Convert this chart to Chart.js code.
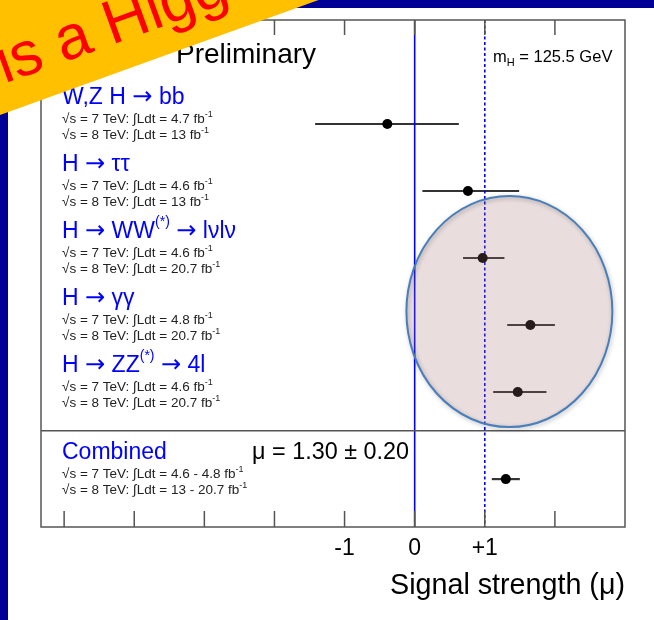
<!DOCTYPE html>
<html>
<head>
<meta charset="utf-8">
<script src="https://cdn.jsdelivr.net/npm/chart.js@4"></script>
<style>
  html, body { margin: 0; padding: 0; background: #fff; overflow: hidden; }
  canvas { display: block; }
</style>
</head>
<body>
<canvas id="chart" width="654" height="620"></canvas>
<script>
// Decay channels: main label parts (odd entries are superscripts)
const channelLabels = [
  ['W,Z H \u2192 bb'],
  ['H \u2192 \u03c4\u03c4'],
  ['H \u2192 WW', '(*)', ' \u2192 l\u03bdl\u03bd'],
  ['H \u2192 \u03b3\u03b3'],
  ['H \u2192 ZZ', '(*)', ' \u2192 4l'],
  ['Combined']
];
// Best-fit signal strength and its uncertainties
const muValues = [-0.39, 0.76, 0.97, 1.65, 1.47, 1.30];
const errDown  = [1.03, 0.65, 0.28, 0.33, 0.35, 0.20];
const errUp    = [1.02, 0.73, 0.31, 0.35, 0.41, 0.20];
// Integrated luminosities (fb^-1)
const lumi7TeV = ['4.7', '4.6', '4.6', '4.8', '4.6', '4.6 - 4.8'];
const lumi8TeV = ['13', '13', '20.7', '20.7', '20.7', '13 - 20.7'];
// Axis ticks
const tickValues = [-5, -4, -3, -2, -1, 0, 1, 2];
const labelledTicks = [-1, 0, 1];
const tickText = ['-1', '0', '+1'];
const combinedText = '\u03bc = 1.30 \u00b1 0.20';
const massLabel = ['m', 'H', ' = 125.5 GeV'];
const bannerLead = 'This ';
const bannerText = 'This is a Higgs';

const FONT = '"Liberation Sans", Arial, Helvetica, sans-serif';
const ARROW_FONT = '"DejaVu Sans", sans-serif';
const X_MIN = -5.33, X_MAX = 3.0;
const Y_TOP = -1.552, Y_BOTTOM = 6.015;
const COMBINED_ROW = 5.3, SEPARATOR_ROW = 4.58;
const rowOf = i => (i < channelLabels.length - 1 ? i : COMBINED_ROW);

const errorBarSets = muValues.map((m, i) => ({
  type: 'line',
  data: [{ x: m - errDown[i], y: rowOf(i) }, { x: m + errUp[i], y: rowOf(i) }],
  borderColor: '#333333',
  borderWidth: 2.2,
  pointRadius: 0,
  showLine: true,
  fill: false,
  order: 2
}));

const referenceSets = [
  { type: 'line', data: [{ x: 0, y: Y_TOP }, { x: 0, y: Y_BOTTOM }],
    borderColor: '#0000ff', borderWidth: 1.6, pointRadius: 0, showLine: true, order: 1 },
  { type: 'line', data: [{ x: 1, y: Y_TOP }, { x: 1, y: Y_BOTTOM }],
    borderColor: '#0000ff', borderWidth: 1.6, borderDash: [3, 2.5], pointRadius: 0, showLine: true, order: 1 }
];

const pointSet = {
  type: 'scatter',
  data: muValues.map((m, i) => ({ x: m, y: rowOf(i) })),
  backgroundColor: '#000',
  borderWidth: 0,
  pointRadius: 5,
  order: 0
};

// Draws a run of text parts; odd parts are raised and smaller, arrows use a wider glyph
function drawParts(ctx, parts, x, y, size, supSize, supRise, color) {
  ctx.fillStyle = color;
  ctx.textAlign = 'left';
  ctx.textBaseline = 'alphabetic';
  let cx = x;
  parts.forEach((p, k) => {
    const sup = k % 2 === 1;
    const sz = sup ? supSize : size;
    const py = sup ? y - supRise : y;
    p.split(/(\u2192)/).forEach(seg => {
      if (!seg) return;
      if (seg === '\u2192') {
        ctx.font = (sz * 1.05) + 'px ' + ARROW_FONT;
        ctx.fillText(seg, cx, py + sz * 0.02);
      } else {
        ctx.font = sz + 'px ' + FONT;
        ctx.fillText(seg, cx, py);
      }
      cx += ctx.measureText(seg).width;
    });
  });
}

const pageBackground = {
  id: 'pageBackground',
  beforeDraw(chart) {
    const { ctx, width, height } = chart;
    ctx.save();
    ctx.fillStyle = '#000096';
    ctx.fillRect(0, 0, width, height);
    ctx.fillStyle = '#ffffff';
    ctx.fillRect(8, 8, width - 8, height - 8);
    ctx.restore();
  }
};

const overlay = {
  id: 'overlay',
  afterDraw(chart) {
    const { ctx, chartArea: a, scales: { x, y } } = chart;
    ctx.save();

    // frame and separator
    ctx.strokeStyle = '#555';
    ctx.lineWidth = 1.5;
    ctx.strokeRect(a.left, a.top, a.right - a.left, a.bottom - a.top);
    const sy = y.getPixelForValue(SEPARATOR_ROW);
    ctx.beginPath();
    ctx.moveTo(a.left, sy); ctx.lineTo(a.right, sy);
    ctx.stroke();

    // inward tick marks
    ctx.beginPath();
    tickValues.forEach(v => {
      const px = x.getPixelForValue(v);
      ctx.moveTo(px, a.top); ctx.lineTo(px, a.top + 15);
      ctx.moveTo(px, a.bottom); ctx.lineTo(px, a.bottom - 16);
    });
    ctx.stroke();

    // headline texts
    ctx.fillStyle = '#000';
    ctx.font = '28px ' + FONT;
    ctx.fillText('Preliminary', 176, 63);
    drawParts(ctx, massLabel, 493, 62, 16.5, 11, -4, '#000');

    // channel labels and luminosities
    const lx = a.left + 21;
    channelLabels.forEach((parts, i) => {
      const py = y.getPixelForValue(rowOf(i));
      drawParts(ctx, parts, lx, py - 20, 23, 14, 12, '#0000ff');
      drawParts(ctx, ['\u221as = 7 TeV: \u222bLdt = ' + lumi7TeV[i] + ' fb', '-1'], lx, py - 1, 13.5, 9, 6, '#222');
      drawParts(ctx, ['\u221as = 8 TeV: \u222bLdt = ' + lumi8TeV[i] + ' fb', '-1'], lx, py + 15, 13.5, 9, 6, '#222');
    });
    ctx.fillStyle = '#000';
    ctx.font = '23.4px ' + FONT;
    ctx.fillText(combinedText, 252, 459);

    // highlight ellipse around the boson channels
    const ex = x.getPixelForValue(1.351), ey = y.getPixelForValue(2.8);
    const rx = x.getPixelForValue(1.351 + 1.469) - ex;
    const ry = y.getPixelForValue(2.8 + 1.724) - ey;
    ctx.save();
    ctx.beginPath();
    ctx.ellipse(ex, ey, rx, ry, 0, 0, Math.PI * 2);
    ctx.fillStyle = 'rgba(161,112,112,0.24)';
    ctx.fill();
    ctx.shadowColor = 'rgba(0,0,0,0.3)';
    ctx.shadowBlur = 4;
    ctx.shadowOffsetX = 1;
    ctx.shadowOffsetY = 1.5;
    ctx.strokeStyle = '#4a7ebb';
    ctx.lineWidth = 2;
    ctx.stroke();
    ctx.restore();

    // yellow banner across the top-left corner
    ctx.save();
    ctx.translate(0, 115);
    ctx.rotate(Math.atan(-0.361));
    ctx.fillStyle = '#ffc000';
    ctx.fillRect(-200, -160, 800, 160);
    ctx.fillStyle = '#ff0000';
    ctx.font = '62px ' + FONT;
    ctx.textBaseline = 'alphabetic';
    ctx.textAlign = 'left';
    const lead = ctx.measureText(bannerLead).width;
    ctx.fillText(bannerText, 15 - lead, -28);
    ctx.restore();

    ctx.restore();
  }
};

new Chart(document.getElementById('chart'), {
  type: 'scatter',
  data: { datasets: [pointSet, ...referenceSets, ...errorBarSets] },
  options: {
    responsive: false,
    devicePixelRatio: 1,
    animation: false,
    events: [],
    layout: { padding: { left: 41, right: 29, top: 20, bottom: 0 } },
    plugins: { legend: { display: false }, tooltip: { enabled: false } },
    elements: { line: { tension: 0 } },
    scales: {
      x: {
        type: 'linear',
        min: X_MIN,
        max: X_MAX,
        afterBuildTicks: s => { s.ticks = tickValues.map(v => ({ value: v })); },
        afterFit: s => { s.height = 93; },
        ticks: {
          autoSkip: false,
          maxRotation: 0,
          padding: 8,
          color: '#000',
          font: { family: FONT, size: 23 },
          callback: v => {
            const k = labelledTicks.indexOf(v);
            return k >= 0 ? tickText[k] : '';
          }
        },
        grid: { display: false, drawTicks: false },
        border: { display: false },
        title: {
          display: true,
          text: 'Signal strength (\u03bc)',
          align: 'end',
          color: '#000',
          font: { family: FONT, size: 28.7 },
          padding: { top: 0, bottom: 17 }
        }
      },
      y: {
        type: 'linear',
        display: false,
        reverse: true,
        min: Y_TOP,
        max: Y_BOTTOM
      }
    }
  },
  plugins: [pageBackground, overlay]
});
</script>
</body>
</html>
